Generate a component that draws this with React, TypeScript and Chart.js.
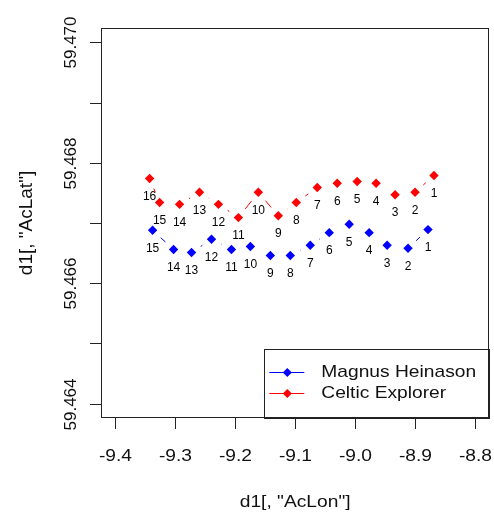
import React, { useEffect, useRef } from "react";
import { Chart, registerables } from "chart.js";

Chart.register(...registerables);

// ---- data ----
const magnusLabels = ["1", "2", "3", "4", "5", "6", "7", "8", "9", "10", "11", "12", "13", "14", "15"];
const magnusLon = [-8.8783, -8.9116, -8.9465, -8.9765, -9.0098, -9.0431, -9.0748, -9.1081, -9.1414, -9.1747, -9.2063, -9.2396, -9.2729, -9.3029, -9.3379];
const magnusLat = [59.46689, 59.46658, 59.46663, 59.46684, 59.46698, 59.46684, 59.46663, 59.46646, 59.46646, 59.46661, 59.46656, 59.46673, 59.46651, 59.46656, 59.46688];

const celticLabels = ["1", "2", "3", "4", "5", "6", "7", "8", "9", "10", "11", "12", "13", "14", "15", "16"];
const celticLon = [-8.8683, -8.8999, -8.9332, -8.9649, -8.9965, -9.0298, -9.0631, -9.0981, -9.1281, -9.1614, -9.1947, -9.228, -9.2596, -9.2929, -9.3262, -9.3429];
const celticLat = [59.46779, 59.46751, 59.46747, 59.46766, 59.46769, 59.46766, 59.46759, 59.46734, 59.46712, 59.46751, 59.46709, 59.46731, 59.46751, 59.46731, 59.46734, 59.46774];

const seriesNames = ["Magnus Heinason", "Celtic Explorer"];
const seriesColors = ["#0000FF", "#FF0000"];

const xTicks = [-9.4, -9.3, -9.2, -9.1, -9.0, -8.9, -8.8];
const xTickLabels = ["-9.4", "-9.3", "-9.2", "-9.1", "-9.0", "-8.9", "-8.8"];
const yTicks = [59.464, 59.465, 59.466, 59.467, 59.468, 59.469, 59.47];
const yTickLabels = ["59.464", "", "59.466", "", "59.468", "", "59.470"];

const xTitle = 'd1[, "AcLon"]';
const yTitle = 'd1[, "AcLat"]';

const FONT = '"Liberation Sans", Arial, sans-serif';
const STRETCH = 1.13;

function drawText(
  ctx: CanvasRenderingContext2D,
  text: string,
  x: number,
  y: number,
  align: CanvasTextAlign,
  sx: number,
  rot = 0
) {
  ctx.save();
  ctx.translate(x, y);
  if (rot) ctx.rotate(rot);
  ctx.scale(sx, 1);
  ctx.textAlign = align;
  ctx.textBaseline = "middle";
  ctx.fillText(text, 0, 0);
  ctx.restore();
}

const gapLinesPlugin = {
  id: "gapLines",
  beforeDatasetsDraw(chart: any) {
    const ctx = chart.ctx as CanvasRenderingContext2D;
    const gap = 11;
    chart.data.datasets.forEach((ds: any, di: number) => {
      const meta = chart.getDatasetMeta(di);
      const pts = meta.data;
      ctx.save();
      ctx.strokeStyle = ds.pointBackgroundColor;
      ctx.lineWidth = 1;
      for (let i = 0; i < pts.length - 1; i++) {
        const a = pts[i];
        const b = pts[i + 1];
        const dx = b.x - a.x;
        const dy = b.y - a.y;
        const d = Math.hypot(dx, dy);
        if (d <= 2 * gap) continue;
        const ux = dx / d;
        const uy = dy / d;
        ctx.beginPath();
        ctx.moveTo(a.x + ux * gap, a.y + uy * gap);
        ctx.lineTo(b.x - ux * gap, b.y - uy * gap);
        ctx.stroke();
      }
      ctx.restore();
    });
  },
};

const pointLabelsPlugin = {
  id: "pointLabels",
  afterDatasetsDraw(chart: any) {
    const ctx = chart.ctx as CanvasRenderingContext2D;
    const labelSets = [magnusLabels, celticLabels];
    ctx.save();
    ctx.fillStyle = "#000";
    ctx.font = `12px ${FONT}`;
    chart.data.datasets.forEach((_ds: any, di: number) => {
      const meta = chart.getDatasetMeta(di);
      meta.data.forEach((p: any, i: number) => {
        drawText(ctx, labelSets[di][i], p.x, p.y + 18, "center", 1);
      });
    });
    ctx.restore();
  },
};

const frameAxesPlugin = {
  id: "frameAxes",
  afterDraw(chart: any) {
    const ctx = chart.ctx as CanvasRenderingContext2D;
    const area = chart.chartArea;
    const xs = chart.scales.x;
    const ys = chart.scales.y;
    const tick = 11;
    ctx.save();
    ctx.strokeStyle = "#222";
    ctx.fillStyle = "#111";
    ctx.lineWidth = 1;

    // legend box (bottom-right)
    const lw = 225;
    const lh = 69;
    const lx = area.right - lw;
    const ly = area.bottom - lh;
    ctx.fillStyle = "#fff";
    ctx.fillRect(lx, ly, lw, lh);
    ctx.strokeRect(Math.round(lx) + 0.5, Math.round(ly) + 0.5, lw, lh);
    const rows = [area.bottom - 46, area.bottom - 25];
    ctx.font = `17px ${FONT}`;
    seriesNames.forEach((name, i) => {
      const y = Math.round(rows[i]) + 0.5;
      ctx.strokeStyle = seriesColors[i];
      ctx.beginPath();
      ctx.moveTo(lx + 5, y);
      ctx.lineTo(lx + 40, y);
      ctx.stroke();
      ctx.fillStyle = seriesColors[i];
      const cx = lx + 23;
      const r = 4.5;
      ctx.beginPath();
      ctx.moveTo(cx - r, y);
      ctx.lineTo(cx, y - r);
      ctx.lineTo(cx + r, y);
      ctx.lineTo(cx, y + r);
      ctx.closePath();
      ctx.fill();
      ctx.fillStyle = "#111";
      drawText(ctx, name, lx + 57, rows[i], "left", STRETCH);
    });

    // plot box
    ctx.strokeStyle = "#222";
    ctx.strokeRect(
      Math.round(area.left) + 0.5,
      Math.round(area.top) + 0.5,
      Math.round(area.right - area.left) - 1,
      Math.round(area.bottom - area.top) - 1
    );

    // x ticks
    ctx.fillStyle = "#111";
    ctx.font = `17px ${FONT}`;
    xTicks.forEach((v, i) => {
      const px = Math.round(xs.getPixelForValue(v)) + 0.5;
      ctx.beginPath();
      ctx.moveTo(px, area.bottom);
      ctx.lineTo(px, area.bottom + tick);
      ctx.stroke();
      drawText(ctx, xTickLabels[i], px, area.bottom + 38, "center", STRETCH);
    });

    // y ticks
    yTicks.forEach((v, i) => {
      const py = Math.round(ys.getPixelForValue(v)) + 0.5;
      ctx.beginPath();
      ctx.moveTo(area.left - tick, py);
      ctx.lineTo(area.left, py);
      ctx.stroke();
      if (yTickLabels[i]) {
        drawText(ctx, yTickLabels[i], area.left - 30, py, "center", 1, -Math.PI / 2);
      }
    });

    // axis titles
    drawText(ctx, xTitle, (area.left + area.right) / 2, area.bottom + 84, "center", STRETCH);
    ctx.font = `19px ${FONT}`;
    drawText(ctx, yTitle, area.left - 74, (area.top + area.bottom) / 2, "center", 1, -Math.PI / 2);
    ctx.restore();
  },
};

export default function App() {
  const canvasRef = useRef<HTMLCanvasElement | null>(null);

  useEffect(() => {
    if (!canvasRef.current) return;
    const chart = new Chart(canvasRef.current, {
      type: "scatter",
      data: {
        datasets: [
          {
            label: seriesNames[0],
            data: magnusLon.map((x, i) => ({ x, y: magnusLat[i] })),
            pointStyle: "rectRot",
            pointRadius: 4.7,
            pointBorderWidth: 0,
            pointBackgroundColor: seriesColors[0],
            borderColor: seriesColors[0],
            showLine: false,
          },
          {
            label: seriesNames[1],
            data: celticLon.map((x, i) => ({ x, y: celticLat[i] })),
            pointStyle: "rectRot",
            pointRadius: 4.7,
            pointBorderWidth: 0,
            pointBackgroundColor: seriesColors[1],
            borderColor: seriesColors[1],
            showLine: false,
          },
        ],
      },
      options: {
        animation: false,
        responsive: false,
        maintainAspectRatio: false,
        layout: { padding: { left: 101, top: 28, right: 3, bottom: 97 } },
        scales: {
          x: { type: "linear", min: -9.424, max: -8.776, display: false },
          y: { type: "linear", min: 59.46376, max: 59.47024, display: false },
        },
        plugins: {
          legend: { display: false },
          tooltip: { enabled: false },
        },
      },
      plugins: [gapLinesPlugin, pointLabelsPlugin, frameAxesPlugin],
    });
    return () => chart.destroy();
  }, []);

  return (
    <div style={{ position: "absolute", left: 0, top: 0, width: 494, height: 515, background: "#fff" }}>
      <canvas ref={canvasRef} width={494} height={515} style={{ display: "block" }} />
    </div>
  );
}
